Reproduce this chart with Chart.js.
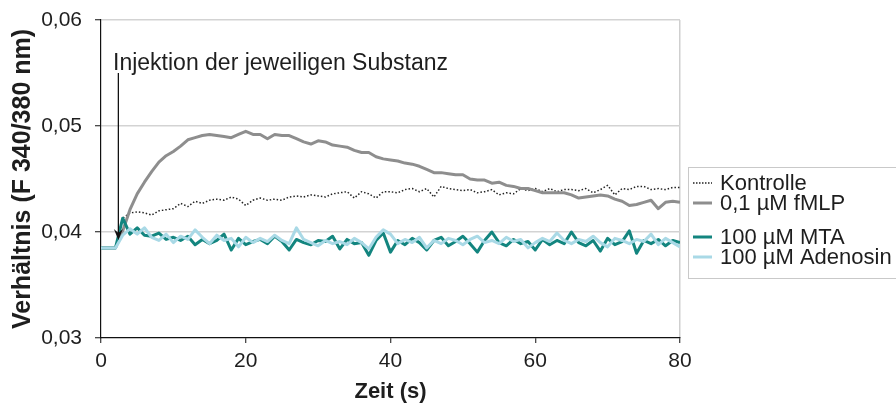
<!DOCTYPE html>
<html lang="de">
<head>
<meta charset="utf-8">
<title>Calcium-Verhältnis</title>
<script src="https://cdn.jsdelivr.net/npm/chart.js@4.4.1/dist/chart.umd.min.js"></script>
<style>
  html, body { margin: 0; padding: 0; background: #fff; }
  #wrap { position: relative; width: 896px; height: 410px; }
</style>
</head>
<body>
<div id="wrap"><canvas id="ratio-chart"></canvas></div>
<script>
// Zeitpunkte (s)
const zeit = [
  0, 1, 2, 3, 4, 5, 6, 7, 8, 9,
  10, 11, 12, 13, 14, 15, 16, 17, 18, 19,
  20, 21, 22, 23, 24, 25, 26, 27, 28, 29,
  30, 31, 32, 33, 34, 35, 36, 37, 38, 39,
  40, 41, 42, 43, 44, 45, 46, 47, 48, 49,
  50, 51, 52, 53, 54, 55, 56, 57, 58, 59,
  60, 61, 62, 63, 64, 65, 66, 67, 68, 69,
  70, 71, 72, 73, 74, 75, 76, 77, 78, 79,
  80
];

// Verhältnis F 340/380 nm je Messreihe
const kontrolle = [
  0.0385, 0.0385, 0.0385, 0.0413, 0.0418, 0.0419, 0.0418, 0.0416, 0.0420, 0.0421,
  0.0422, 0.0427, 0.0424, 0.0429, 0.0427, 0.0430, 0.0431, 0.0430, 0.0433, 0.0431,
  0.0425, 0.0430, 0.0432, 0.0430, 0.0431, 0.0430, 0.0433, 0.0434, 0.0433, 0.0435,
  0.0434, 0.0433, 0.0436, 0.0437, 0.0438, 0.0432, 0.0438, 0.0436, 0.0432, 0.0438,
  0.0438, 0.0437, 0.0440, 0.0441, 0.0438, 0.0441, 0.0433, 0.0443, 0.0441, 0.0440,
  0.0439, 0.0440, 0.0437, 0.0438, 0.0440, 0.0435, 0.0437, 0.0436, 0.0441, 0.0439,
  0.0441, 0.0438, 0.0441, 0.0438, 0.0440, 0.0440, 0.0439, 0.0441, 0.0437, 0.0440,
  0.0444, 0.0435, 0.0441, 0.0440, 0.0443, 0.0443, 0.0440, 0.0441, 0.0440, 0.0442,
  0.0442
];

const fmlp = [
  0.0385, 0.0385, 0.0385, 0.0401, 0.0421, 0.0436, 0.0447, 0.0457, 0.0466, 0.0472,
  0.0476, 0.0481, 0.0487, 0.0489, 0.0491, 0.0492, 0.0491, 0.0490, 0.0489, 0.0492,
  0.0495, 0.0492, 0.0492, 0.0488, 0.0492, 0.0491, 0.0491, 0.0488, 0.0485, 0.0483,
  0.0486, 0.0485, 0.0482, 0.0481, 0.0480, 0.0477, 0.0475, 0.0475, 0.0471, 0.0469,
  0.0468, 0.0467, 0.0465, 0.0464, 0.0462, 0.0459, 0.0456, 0.0456, 0.0455, 0.0454,
  0.0454, 0.0450, 0.0449, 0.0449, 0.0446, 0.0447, 0.0444, 0.0443, 0.0441, 0.0441,
  0.0439, 0.0437, 0.0437, 0.0437, 0.0437, 0.0435, 0.0432, 0.0433, 0.0434, 0.0435,
  0.0434, 0.0431, 0.0429, 0.0425, 0.0426, 0.0428, 0.0430, 0.0422, 0.0428, 0.0429,
  0.0428
];

const mta = [
  0.0385, 0.0385, 0.0385, 0.0413, 0.0398, 0.0404, 0.0397, 0.0396, 0.0399, 0.0393,
  0.0395, 0.0392, 0.0396, 0.0388, 0.0393, 0.0389, 0.0392, 0.0398, 0.0383, 0.0394,
  0.0388, 0.0391, 0.0393, 0.0389, 0.0396, 0.0391, 0.0383, 0.0393, 0.0390, 0.0388,
  0.0392, 0.0391, 0.0396, 0.0384, 0.0393, 0.0389, 0.0390, 0.0378, 0.0392, 0.0399,
  0.0381, 0.0392, 0.0388, 0.0394, 0.0390, 0.0383, 0.0392, 0.0395, 0.0387, 0.0391,
  0.0396, 0.0389, 0.0381, 0.0392, 0.0400, 0.0390, 0.0387, 0.0393, 0.0389, 0.0391,
  0.0383, 0.0393, 0.0388, 0.0392, 0.0389, 0.0400, 0.0390, 0.0387, 0.0392, 0.0382,
  0.0394, 0.0388, 0.0391, 0.0401, 0.0380, 0.0392, 0.0389, 0.0393, 0.0387, 0.0392,
  0.0390
];

const adenosin = [
  0.0385, 0.0385, 0.0385, 0.0397, 0.0403, 0.0398, 0.0404, 0.0395, 0.0392, 0.0398,
  0.0390, 0.0396, 0.0393, 0.0402, 0.0395, 0.0389, 0.0397, 0.0392, 0.0394, 0.0386,
  0.0395, 0.0390, 0.0394, 0.0391, 0.0397, 0.0392, 0.0389, 0.0404, 0.0393, 0.0390,
  0.0387, 0.0392, 0.0389, 0.0391, 0.0388, 0.0394, 0.0390, 0.0384, 0.0395, 0.0402,
  0.0398, 0.0389, 0.0393, 0.0390, 0.0395, 0.0385, 0.0392, 0.0389, 0.0394, 0.0392,
  0.0388, 0.0393, 0.0396, 0.0390, 0.0392, 0.0389, 0.0395, 0.0391, 0.0393, 0.0385,
  0.0390, 0.0394, 0.0391, 0.0399, 0.0392, 0.0389, 0.0393, 0.0391, 0.0396, 0.0390,
  0.0386, 0.0394, 0.0392, 0.0389, 0.0393, 0.0391, 0.0398, 0.0388, 0.0394, 0.0390,
  0.0386
];

const serienNamen = ["Kontrolle", "0,1 µM fMLP", "100 µM MTA", "100 µM Adenosin"];
const xTicks = [0, 20, 40, 60, 80];
const yTicks = [0.03, 0.04, 0.05, 0.06];

// Zeitpunkt der Injektion (s)
const injektionZeit = 2.4;

const FONT = "'Liberation Sans', Arial, Helvetica, sans-serif";
const farben = {
  kontrolle: "#222222",
  fmlp: "#8e8e8e",
  mta: "#13857f",
  adenosin: "#a9d9e6"
};

function punkte(werte) {
  return zeit.map((t, i) => ({ x: t, y: werte[i] }));
}

// Pfeil + Beschriftung für die Injektion
const injektionPlugin = {
  id: "injektion",
  afterDatasetsDraw(chart) {
    const { ctx, scales } = chart;
    const x = scales.x.getPixelForValue(injektionZeit);
    const yTop = scales.y.getPixelForValue(0.0550);
    const yTip = scales.y.getPixelForValue(0.03925);
    ctx.save();
    ctx.strokeStyle = "#111";
    ctx.fillStyle = "#111";
    ctx.lineWidth = 1.3;
    ctx.beginPath();
    ctx.moveTo(x, yTop);
    ctx.lineTo(x, yTip - 4);
    ctx.stroke();
    ctx.beginPath();
    ctx.moveTo(x, yTip);
    ctx.lineTo(x - 4.5, yTip - 11);
    ctx.lineTo(x, yTip - 7);
    ctx.lineTo(x + 4.5, yTip - 11);
    ctx.closePath();
    ctx.fill();

    ctx.font = "23px " + FONT;
    ctx.textAlign = "left";
    ctx.textBaseline = "alphabetic";
    ctx.fillStyle = "#1e1e1e";
    ctx.fillText("Injektion der jeweiligen Substanz",
      scales.x.getPixelForValue(1.66), scales.y.getPixelForValue(0.05528));
    ctx.restore();
  }
};

// Legende rechts neben dem Diagramm
const legendePlugin = {
  id: "legende",
  afterDraw(chart) {
    const { ctx, chartArea } = chart;
    const left = chartArea.right + 8;
    const top = 167;
    ctx.save();
    ctx.strokeStyle = "#c9c9c9";
    ctx.lineWidth = 1;
    ctx.strokeRect(left + 0.5, top + 0.5, 240, 111);

    const zeilen = [
      { y: 183, farbe: farben.kontrolle, breite: 1.3, dash: [1.5, 1.5] },
      { y: 203, farbe: farben.fmlp, breite: 3, dash: [] },
      { y: 237, farbe: farben.mta, breite: 3, dash: [] },
      { y: 257, farbe: farben.adenosin, breite: 3, dash: [] }
    ];
    ctx.font = "22px " + FONT;
    ctx.textBaseline = "middle";
    ctx.textAlign = "left";
    zeilen.forEach((z, i) => {
      ctx.strokeStyle = z.farbe;
      ctx.lineWidth = z.breite;
      ctx.setLineDash(z.dash);
      ctx.beginPath();
      ctx.moveTo(left + 5, z.y);
      ctx.lineTo(left + 24, z.y);
      ctx.stroke();
      ctx.setLineDash([]);
      ctx.fillStyle = "#1e1e1e";
      ctx.fillText(serienNamen[i], left + 32, z.y + 1);
    });
    ctx.restore();
  }
};

const ctx = document.getElementById("ratio-chart").getContext("2d");

new Chart(ctx, {
  type: "line",
  data: {
    datasets: [
      {
        label: serienNamen[0],
        data: punkte(kontrolle),
        borderColor: farben.kontrolle,
        borderWidth: 1.5,
        borderDash: [1.5, 2],
        order: 4
      },
      {
        label: serienNamen[1],
        data: punkte(fmlp),
        borderColor: farben.fmlp,
        borderWidth: 3,
        order: 3
      },
      {
        label: serienNamen[2],
        data: punkte(mta),
        borderColor: farben.mta,
        borderWidth: 3,
        order: 2
      },
      {
        label: serienNamen[3],
        data: punkte(adenosin),
        borderColor: farben.adenosin,
        borderWidth: 3,
        order: 1
      }
    ]
  },
  options: {
    responsive: true,
    maintainAspectRatio: false,
    animation: false,
    events: [],
    layout: { padding: { top: 20, right: 216, left: 0, bottom: 0 } },
    elements: {
      point: { radius: 0 },
      line: { tension: 0, fill: false, borderJoinStyle: "round" }
    },
    plugins: {
      legend: { display: false },
      tooltip: { enabled: false }
    },
    scales: {
      x: {
        type: "linear",
        min: 0,
        max: 80,
        afterFit: (scale) => { scale.height = 72; },
        afterBuildTicks: (scale) => { scale.ticks = xTicks.map(v => ({ value: v })); },
        ticks: {
          color: "#1e1e1e",
          font: { family: FONT, size: 21 },
          padding: 6,
          maxRotation: 0
        },
        grid: {
          color: (c) => (c.tick && c.tick.value === 80 ? "#cfcfcf" : "rgba(0,0,0,0)"),
          lineWidth: 1.5,
          tickColor: "#111",
          tickLength: 5,
          tickWidth: 1
        },
        border: { color: "#111", width: 1.2 },
        title: {
          display: true,
          text: "Zeit (s)",
          color: "#1e1e1e",
          font: { family: FONT, size: 22, weight: "bold" },
          padding: { top: 0, bottom: 5 }
        }
      },
      y: {
        min: 0.03,
        max: 0.06,
        // feste Breite, Randabstände der Beschriftung ignorieren
        afterFit: (scale) => {
          scale.width = 101;
          scale.paddingTop = 0;
          scale.paddingBottom = 0;
        },
        afterBuildTicks: (scale) => { scale.ticks = yTicks.map(v => ({ value: v })); },
        ticks: {
          color: "#1e1e1e",
          font: { family: FONT, size: 21 },
          padding: 13,
          callback: (v) => Number(v).toFixed(2).replace(".", ",")
        },
        grid: {
          color: (c) => (c.tick && c.tick.value > 0.031 ? "#d3d3d3" : "rgba(0,0,0,0)"),
          lineWidth: 1.5,
          tickColor: "#111",
          tickLength: 6,
          tickWidth: 1
        },
        border: { color: "#111", width: 1.2 },
        title: {
          display: true,
          text: "Verhältnis (F 340/380 nm)",
          color: "#1e1e1e",
          font: { family: FONT, size: 25, weight: "bold" },
          padding: { top: 8, bottom: 0 }
        }
      }
    }
  },
  plugins: [injektionPlugin, legendePlugin]
});
</script>
</body>
</html>
